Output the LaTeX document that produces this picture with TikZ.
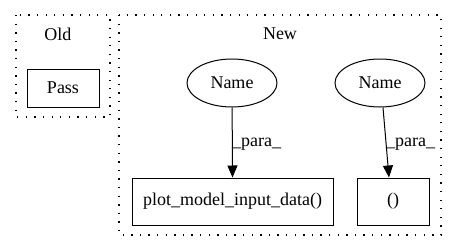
\documentclass[tikz,border=0pt]{standalone}
\usepackage{fontspec}
\setmainfont{Liberation Serif}
\usetikzlibrary{shapes.geometric,arrows.meta,calc}
\begin{document}
\begin{tikzpicture}[x=1pt,y=-1pt,
  lbl/.style={font=\fontsize{18}{20}\selectfont},
  cluster/.style={draw, line width=1.3pt, dash pattern=on 1.3pt off 7.3pt},
  box/.style={draw, line width=1pt, rectangle, inner sep=0pt, lbl},
  oval/.style={draw, line width=1pt, ellipse, inner sep=0pt, minimum width=90pt, minimum height=48pt, lbl},
  edgelbl/.style={lbl, inner sep=0pt},
  arr/.style={-{Triangle[length=12pt,width=10pt]}, line width=1pt}]
\useasboundingbox (0,0) rectangle (456,252);
% clusters
\draw[cluster] (16,15) rectangle (110,117);
\draw[cluster] (119,15) rectangle (441,235);
\node[lbl] (oldt) at (58,34) {Old};
\node[lbl] (newt) at (280,34) {New};
% nodes
\node[box, minimum width=72pt, minimum height=38pt] (pass) at (63,88) {Pass};
\node[oval] (n1) at (232,83) {Name};
\node[oval] (n2) at (380,83) {Name};
\node[box, minimum width=201pt, minimum height=47pt] (plot) at (232.5,201.5) {plot\_model\_input\_data()};
\node[box, minimum width=72pt, minimum height=47pt] (tup) at (393,201.5) {()};
% edges
\draw[arr] (n1) -- (plot.north);
\draw[arr] ($(n2.south)+(3,0)$) -- ($(tup.north)+(-4,0)$);
\node[edgelbl, anchor=west] (l1) at (232,144) {\_para\_};
\node[edgelbl, anchor=west] (l2) at (386,144) {\_para\_};
\end{tikzpicture}
\end{document}
